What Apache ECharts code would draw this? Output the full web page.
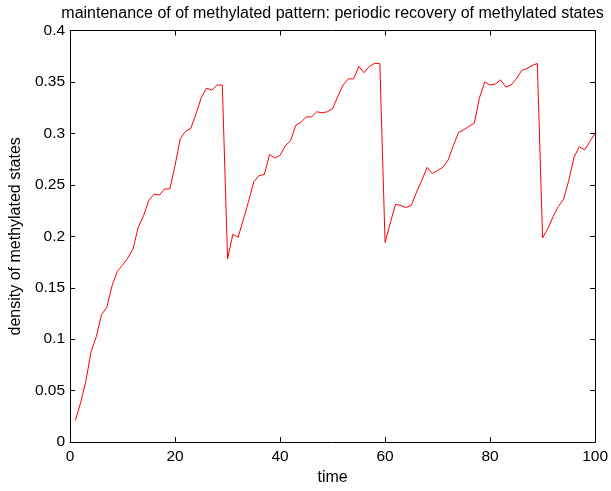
<!DOCTYPE html>
<html>
<head>
<meta charset="utf-8">
<script src="https://cdn.jsdelivr.net/npm/echarts@6/dist/echarts.min.js"></script>
<style>
html,body{margin:0;padding:0;background:#fff;}
#c{width:611px;height:491px;}
</style>
</head>
<body>
<div id="c"></div>
<script>
var titleText = 'maintenance of of methylated pattern: periodic recovery of methylated states';
var xLabel = 'time';
var yLabel = 'density of methylated states';
var xTicks = [0, 20, 40, 60, 80, 100];
var yTicks = [0, 0.05, 0.1, 0.15, 0.2, 0.25, 0.3, 0.35, 0.4];
var times = [];
for (var i = 1; i <= 100; i++) times.push(i);
var density = [
  0.021, 0.038, 0.059, 0.088, 0.1025, 0.124, 0.131, 0.152, 0.166, 0.172,
  0.179, 0.188, 0.209, 0.220, 0.235, 0.241, 0.240, 0.246, 0.246, 0.269,
  0.295, 0.302, 0.305, 0.319, 0.335, 0.344, 0.342, 0.347, 0.347, 0.178,
  0.202, 0.199, 0.216, 0.234, 0.253, 0.259, 0.260, 0.2795, 0.276, 0.2786,
  0.288, 0.293, 0.308, 0.311, 0.316, 0.316, 0.321, 0.320, 0.321, 0.324,
  0.336, 0.347, 0.353, 0.353, 0.365, 0.359, 0.365, 0.368, 0.368, 0.194,
  0.213, 0.231, 0.230, 0.228, 0.230, 0.243, 0.2545, 0.267, 0.261, 0.264,
  0.267, 0.274, 0.288, 0.301, 0.3035, 0.307, 0.310, 0.335, 0.350, 0.347,
  0.348, 0.352, 0.345, 0.347, 0.353, 0.361, 0.363, 0.366, 0.368, 0.1985,
  0.2075, 0.219, 0.229, 0.236, 0.2545, 0.277, 0.287, 0.284, 0.292, 0.300
];

var FONT = 'Liberation Sans, Arial, Helvetica, sans-serif';
var pts = times.map(function (t, i) { return [t, density[i]]; });

var chart = echarts.init(document.getElementById('c'), null, {renderer: 'canvas'});
function fmt(v){ return String(Math.round(v*100)/100); }
function common() {
  return {
    axisLine: {show: true, onZero: false, lineStyle: {color: '#000', width: 1}},
    axisTick: {show: true, inside: true, length: 5, lineStyle: {color: '#000', width: 1}},
    splitLine: {show: false}
  };
}
chart.setOption({
  animation: false,
  backgroundColor: '#fff',
  grid: {left: 68.5, right: 14.5, top: 30.5, bottom: 44.5, containLabel: false},
  graphic: [{
    type: 'text', x: 332.6, y: 14,
    style: {text: titleText, font: '16px ' + FONT, fill: '#000', textAlign: 'center', textVerticalAlign: 'middle'}
  }],
  xAxis: [
    Object.assign({
      type: 'value', min: xTicks[0], max: xTicks[xTicks.length-1], interval: 20, position: 'bottom',
      name: xLabel, nameLocation: 'middle', nameGap: 26,
      nameTextStyle: {fontFamily: FONT, fontSize: 16, color: '#000'},
      axisLabel: {show: true, margin: 7, fontFamily: FONT, fontSize: 15.5, color: '#000'}
    }, common()),
    Object.assign({
      type: 'value', min: xTicks[0], max: xTicks[xTicks.length-1], interval: 20, position: 'top',
      axisLabel: {show: false}
    }, common())
  ],
  yAxis: [
    Object.assign({
      type: 'value', min: yTicks[0], max: yTicks[yTicks.length-1], interval: 0.05, position: 'left',
      name: yLabel, nameLocation: 'middle', nameGap: 45,
      nameTextStyle: {fontFamily: FONT, fontSize: 16, color: '#000'},
      axisLabel: {show: true, margin: 5, fontFamily: FONT, fontSize: 15.5, color: '#000', formatter: fmt}
    }, common()),
    Object.assign({
      type: 'value', min: yTicks[0], max: yTicks[yTicks.length-1], interval: 0.05, position: 'right',
      axisLabel: {show: false}
    }, common())
  ],
  series: [{
    type: 'line', data: pts, xAxisIndex: 0, yAxisIndex: 0,
    showSymbol: false, symbol: 'none',
    lineStyle: {color: '#ff0000', width: 1},
    itemStyle: {color: '#ff0000'}
  }]
});
</script>
</body>
</html>
